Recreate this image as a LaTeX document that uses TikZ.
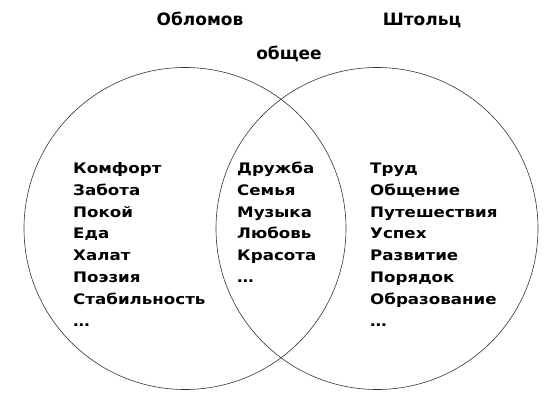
\documentclass[tikz,border=0pt]{standalone}
\usepackage{fontspec}
\setmainfont{DejaVu Sans}
\newfontfamily\itemfont{DejaVu Sans}[FakeStretch=1.15]
\usepackage{tikz}

\begin{document}
\begin{tikzpicture}[x=1pt,y=-1pt,
    ring/.style={draw=black!80, line width=0.6pt},
    title/.style={anchor=base, inner sep=0pt, font=\fontsize{17}{20}\selectfont\bfseries},
    item/.style={anchor=base west, inner sep=0pt, font=\itemfont\fontsize{14.5}{16}\selectfont\bfseries}]
    \useasboundingbox (0,0) rectangle (546,403);
    \node[shape=circle, ring, minimum size=322pt, inner sep=0pt] at (185,228.5) (Oblomov) {};
    \node[shape=circle, ring, minimum size=322pt, inner sep=0pt] at (377,228.5) (Stolz) {};
    \node[title] at (200,26) (tO) {Обломов};
    \node[title] at (422,26) (tS) {Штольц};
    \node[title] at (289,60) (tC) {общее};
    \foreach \w [count=\i] in {Комфорт, Забота, Покой, Еда, Халат, Поэзия, Стабильность, \dots}
        \node[item] at (73,{173.5+21.8*(\i-1)}) (L\i) {\w};
    \foreach \w [count=\i] in {Дружба, Семья, Музыка, Любовь, Красота, \dots}
        \node[item] at (237,{173.5+21.8*(\i-1)}) (M\i) {\w};
    \foreach \w [count=\i] in {Труд, Общение, Путешествия, Успех, Развитие, Порядок, Образование, \dots}
        \node[item] at (370,{173.5+21.8*(\i-1)}) (R\i) {\w};
\end{tikzpicture}
\end{document}
